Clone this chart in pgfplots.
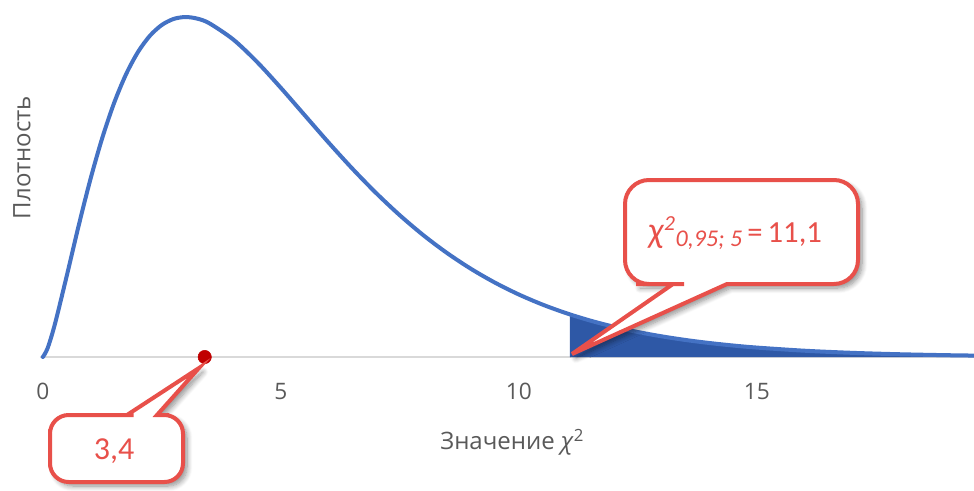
\documentclass[border=0pt]{standalone}
\usepackage{fontspec}
\setmainfont{Open Sans}
\newfontfamily\calib{Carlito}
\usepackage{pgfplots}
\pgfplotsset{compat=1.18}
\usetikzlibrary{shadows.blur}
\definecolor{curve}{HTML}{4472C4}
\definecolor{tail}{HTML}{2E58A6}
\definecolor{callred}{HTML}{E8504A}
\definecolor{dotred}{HTML}{C00000}
\definecolor{txt}{HTML}{595959}
\definecolor{axisgray}{HTML}{D9D9D9}
\begin{document}
\begin{tikzpicture}
\begin{axis}[
  scale only axis, width=700.5pt, height=267.75pt,
  at={(0,0)}, anchor=south west,
  xmin=-0.06, xmax=19.56, ymin=0, ymax=0.1619,
  clip=false,
  axis lines*=left,
  x axis line style={draw=axisgray, line width=0.8pt},
  y axis line style={draw=none},
  ytick=\empty,
  xtick={0,5,10,15},
  major tick length=0pt,
  /pgf/number format/assume math mode=true,
  xticklabel style={text=txt, font=\fontsize{17}{20}\selectfont, yshift=-16pt},
  xlabel={Значение \textit{χ}\textsuperscript{2}},
  xlabel style={at={(axis cs:9.86,0)}, anchor=center, yshift=-64pt, text=txt, font=\fontsize{18}{21}\selectfont},
  ylabel={Плотность},
  ylabel style={at={(axis cs:-0.438,0.0905)}, anchor=center, text=txt, font=\fontsize{18}{21}\selectfont},
]
\addplot[fill=tail, draw=none] table {
11.0705 0.01932
11.5 0.01651
12 0.01370
12.5 0.01134
13 0.00937
13.5 0.00772
14 0.00635
14.5 0.00521
15 0.00427
16 0.00285
17 0.00189
18 0.00125
19 0.00082
19.6 0.00064
} \closedcycle;
\addplot[curve, line width=3pt, smooth, line cap=round, line join=round] table {
0 0
0.1 0.00400
0.25 0.01467
0.5 0.03662
0.75 0.05936
1 0.08066
1.25 0.09948
1.5 0.11540
1.75 0.12833
2 0.13837
2.25 0.14571
2.5 0.15060
2.75 0.15333
3 0.15418
3.25 0.15342
3.5 0.15131
4 0.14398
4.5 0.13380
5 0.12204
5.5 0.10966
6 0.09730
6.5 0.08545
7 0.07437
7.5 0.06424
8 0.05511
8.5 0.04701
9 0.03989
9.5 0.03369
10 0.02833
10.5 0.02374
11 0.01983
11.5 0.01651
12 0.01370
12.5 0.01134
13 0.00937
13.5 0.00772
14 0.00635
14.5 0.00521
15 0.00427
16 0.00285
17 0.00189
18 0.00125
19 0.00082
19.6 0.00064
};
\addplot[only marks, mark=*, mark size=5pt, color=dotred] coordinates {(3.4,0)};
\end{axis}
\begin{scope}[x=0.75pt, y=-0.75pt, shift={(-30pt,267.75pt)}]
  % callout for critical value
  \draw[callred, line width=3pt, fill=white,
        blur shadow={shadow xshift=3pt, shadow yshift=-3pt, shadow blur steps=8, shadow blur radius=4pt, shadow opacity=45}]
    (858,232) [rounded corners=18] -- (858,180) -- (625,180) -- (625,284) -- (660,284)
    [sharp corners] -- (673,284) -- (572,354) -- (727,284) -- (740,284)
    [rounded corners=18] -- (858,284) -- cycle;
  \node[text=callred, font=\calib\fontsize{23}{27}\selectfont] at (735,233)
    {{\fontsize{27}{30}\selectfont\textit{χ}}\textsuperscript{\itshape 2}\raisebox{-0.15em}{\itshape\fontsize{18}{20}\selectfont 0,95;~5}\,=\,11,1};
  % callout for observed value
  \draw[callred, line width=3pt, fill=white,
        blur shadow={shadow xshift=3pt, shadow yshift=-3pt, shadow blur steps=8, shadow blur radius=4pt, shadow opacity=45}]
    (50,448) [rounded corners=14] -- (50,415) -- (115,415)
    [sharp corners] -- (127,415) -- (199,368) -- (157,415) -- (169,415)
    [rounded corners=14] -- (183,415) -- (183,482) -- (50,482) -- cycle;
  \node[text=callred, font=\calib\fontsize{24}{28}\selectfont] at (114,451) {3,4};
  \pgfresetboundingbox
  \path[use as bounding box] (0,0) rectangle (974,490);
\end{scope}
\end{tikzpicture}
\end{document}
